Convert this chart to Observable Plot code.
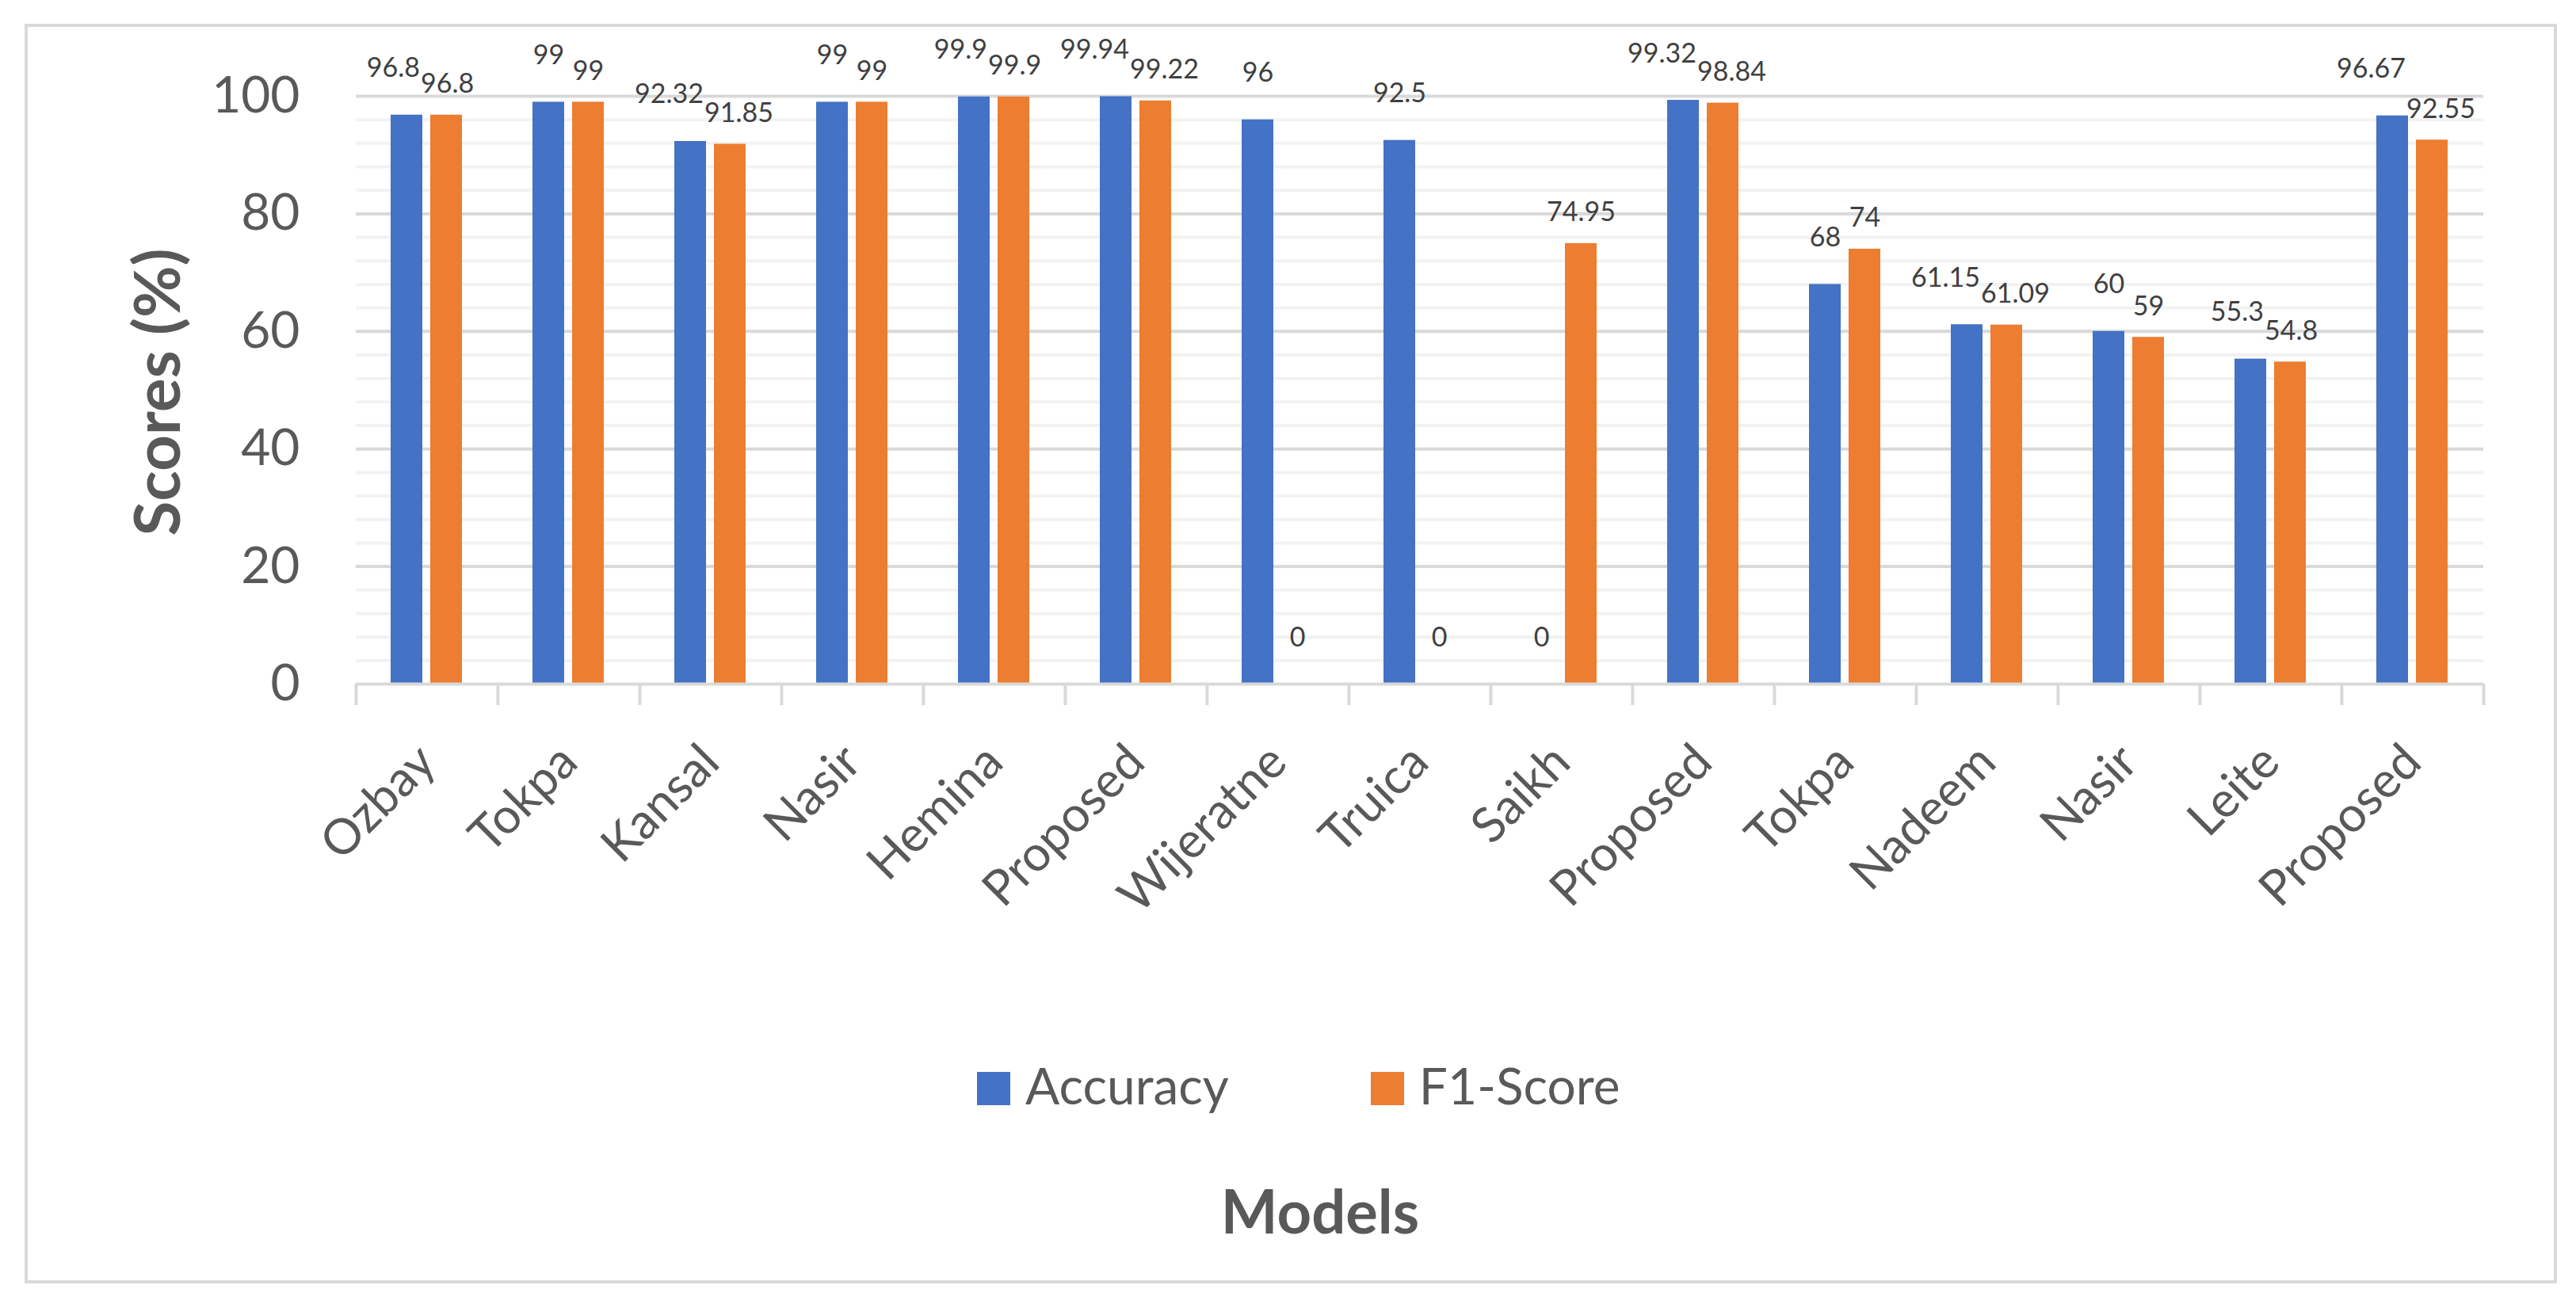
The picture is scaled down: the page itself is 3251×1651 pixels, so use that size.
<!DOCTYPE html>
<html><head><meta charset="utf-8">
<script src="https://cdn.jsdelivr.net/npm/d3@7"></script>
<script src="https://cdn.jsdelivr.net/npm/@observablehq/plot@0.6"></script>
<style>
html,body{margin:0;padding:0;background:#fff;}
#wrap{position:relative;width:3251px;height:1651px;font-family:Lato,"Open Sans",sans-serif;color:#595959;overflow:hidden;}
#frame{position:absolute;left:31px;top:30px;width:3188px;height:1582px;border:4px solid #d9d9d9;}
#chart{position:absolute;left:0;top:0;}
#ytitle{position:absolute;left:196px;top:495px;transform:translate(-50%,-50%) rotate(-90deg);font-weight:bold;font-size:80px;line-height:1;white-space:nowrap;}
#legend{position:absolute;top:1338px;left:1233px;display:flex;align-items:flex-start;font-size:64px;line-height:1;}
.item{display:flex;align-items:flex-start;margin-right:179px;}
.sw{width:42px;height:42px;margin-top:15px;margin-right:19px;}
#xtitle{position:absolute;top:1490px;left:1666px;transform:translateX(-50%);font-weight:bold;font-size:76px;line-height:1;white-space:nowrap;}
</style></head>
<body>
<div id="wrap">
  <div id="frame"></div>
  <div id="chart"></div>
  <div id="ytitle">Scores (%)</div>
  <div id="legend"></div>
  <div id="xtitle">Models</div>
</div>
<script>
const models = ["Ozbay","Tokpa","Kansal","Nasir","Hemina","Proposed","Wijeratne","Truica","Saikh","Proposed","Tokpa","Nadeem","Nasir","Leite","Proposed"];
const accuracy = [96.8, 99, 92.32, 99, 99.9, 99.94, 96, 92.5, 0, 99.32, 68, 61.15, 60, 55.3, 96.67];
const f1score  = [96.8, 99, 91.85, 99, 99.9, 99.22, 0, 0, 74.95, 98.84, 74, 61.09, 59, 54.8, 92.55];
const seriesNames = ["Accuracy", "F1-Score"];
const seriesColors = ["#4472c4", "#ed7d31"];
const yTicks = [0, 20, 40, 60, 80, 100];
const yMinor = [4, 8, 12, 16, 24, 28, 32, 36, 44, 48, 52, 56, 64, 68, 72, 76, 84, 88, 92, 96];

const idx = models.map((_, i) => i);
const rows = idx.flatMap(i => [
  {i, model: models[i], series: "Accuracy", value: accuracy[i]},
  {i, model: models[i], series: "F1-Score", value: f1score[i]}
]);

const W = 3251, H = 1300, mL = 448, mR = 116, mT = 121, mB = 437;
const pIn = 0.196, pOut = 0.853;
const step = (W - mL - mR) / models.length;
const bw = step / (2 - pIn + 2 * pOut) * (1 - pIn);

const paired = d => accuracy[d.i] > 0 && f1score[d.i] > 0 && String(d.value).length > 2;
const lab = {fx: "i", x: "series", y: "value", text: d => String(d.value), fontSize: 34, fill: "#404040", lineAnchor: "bottom"};

const chart = Plot.plot({
  width: W, height: H,
  marginLeft: mL, marginRight: mR, marginTop: mT, marginBottom: mB,
  style: {fontFamily: "Lato, 'Open Sans', sans-serif", background: "transparent"},
  fx: {domain: idx, padding: 0},
  x: {domain: seriesNames, paddingInner: pIn, paddingOuter: pOut, axis: null},
  y: {domain: [0, 100]},
  color: {domain: seriesNames, range: seriesColors},
  marks: [
    Plot.ruleY(yMinor, {stroke: "#f2f2f2", strokeWidth: 4}),
    Plot.ruleY(yTicks.filter(v => v > 0), {stroke: "#d9d9d9", strokeWidth: 4}),
    Plot.barY(rows, {fx: "i", x: "series", y: "value", fill: "series"}),
    Plot.ruleY([0], {stroke: "#d9d9d9", strokeWidth: 4}),
    Plot.axisY({ticks: yTicks, tickSize: 0, tickPadding: 71, fontSize: 64, fill: "#595959", label: null}),
    Plot.axisFx({anchor: "bottom", tickSize: 0, tickPadding: 88, tickRotate: -45, tickFormat: i => models[i], fontSize: 62, fill: "#595959", label: null}),
    Plot.axisFx({anchor: "bottom", tickSize: 27, tickFormat: () => "", dx: -step / 2, stroke: "#d9d9d9", strokeWidth: 4, label: null}),
    Plot.axisFx({anchor: "bottom", ticks: [idx[idx.length - 1]], tickSize: 27, tickFormat: () => "", dx: step / 2, stroke: "#d9d9d9", strokeWidth: 4, label: null}),
    Plot.text(rows.filter(d => d.series === "Accuracy" && !paired(d)), {...lab, dy: -48}),
    Plot.text(rows.filter(d => d.series === "Accuracy" && paired(d)), {...lab, dy: -48, textAnchor: "end", dx: bw / 2 - 4}),
    Plot.text(rows.filter(d => d.series === "F1-Score" && !paired(d) && d.value > 0), {...lab, dy: -28}),
    Plot.text(rows.filter(d => d.series === "F1-Score" && d.value === 0), {...lab, dy: -48}),
    Plot.text(rows.filter(d => d.series === "F1-Score" && paired(d)), {...lab, dy: -28, textAnchor: "start", dx: -bw / 2 - 12})
  ]
});
document.getElementById("chart").appendChild(chart);

const legend = document.getElementById("legend");
seriesNames.forEach((s, k) => {
  const item = document.createElement("div");
  item.className = "item";
  const sw = document.createElement("div");
  sw.className = "sw";
  sw.style.background = seriesColors[k];
  const t = document.createElement("span");
  t.textContent = s;
  item.appendChild(sw); item.appendChild(t);
  legend.appendChild(item);
});
</script>
</body></html>
